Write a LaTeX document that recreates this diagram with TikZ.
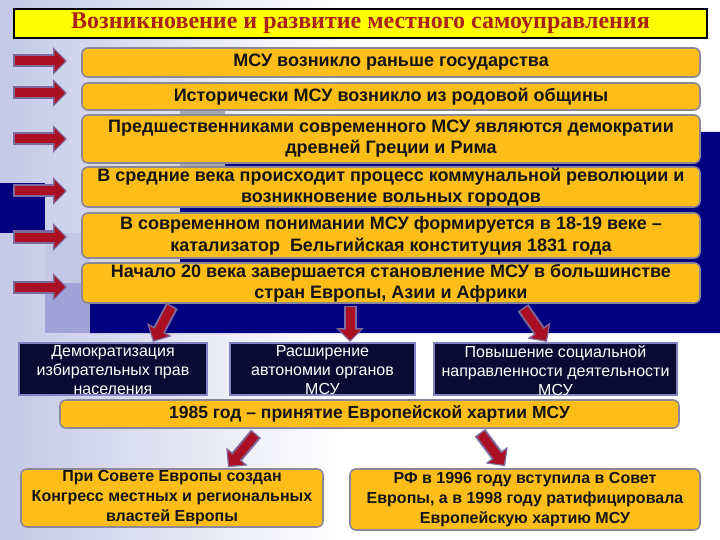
\documentclass[tikz,border=0pt]{standalone}
\usepackage{fontspec}
\setmainfont{Liberation Sans}
\newfontfamily\titlefont{Liberation Serif}
\usetikzlibrary{arrows.meta,calc}
\definecolor{orng}{RGB}{253,190,25}
\definecolor{oborder}{RGB}{140,135,150}
\definecolor{txt}{RGB}{20,20,20}
\definecolor{navyc}{RGB}{0,0,128}
\definecolor{dfill}{RGB}{10,10,50}
\definecolor{dborder}{RGB}{130,130,195}
\definecolor{redc}{RGB}{170,15,35}
\definecolor{redline}{RGB}{125,105,155}
\definecolor{titlered}{RGB}{170,35,20}
\definecolor{lav}{RGB}{196,200,230}
\definecolor{lavmid}{RGB}{160,163,215}
\definecolor{lgray}{RGB}{215,215,222}
\definecolor{mgray}{RGB}{168,168,176}
\definecolor{ttlyellow}{RGB}{255,255,0}
\begin{document}
\begin{tikzpicture}[x=1pt,y=-1pt,
  obox/.style={draw=oborder, line width=1.6pt, fill=orng, rounded corners=6pt,
    align=center, inner sep=0pt, text=txt, font=\bfseries\fontsize{18}{21}\selectfont},
  smallo/.style={obox, font=\bfseries\fontsize{16}{20}\selectfont},
  dbox/.style={draw=dborder, line width=2pt, fill=dfill, inner sep=0pt},
  dtext/.style={text=white, align=center, inner sep=0pt, font=\fontsize{16}{19}\selectfont},
  arrout/.style={line width=13pt, draw=redline, -{Triangle[width=27pt,length=14pt]}},
  arrin/.style={line width=9pt, draw=redc, shorten >=2pt, shorten <=1.5pt, -{Triangle[width=21pt,length=10.5pt]}}]
\useasboundingbox (0,0) rectangle (720,540);
% background
\fill[white] (0,0) rectangle (720,540);
\shade[left color=lav, right color=white] (0,0) rectangle (340,540);
\fill[mgray] (180,105) rectangle (225,168);
\fill[lgray] (135,160) rectangle (180,200);
\fill[lgray] (90,200) rectangle (180,262);
\fill[navyc] (225,132) -- (720,132) -- (720,333) -- (90,333) -- (90,262) -- (180,262) -- (180,168) -- (225,168) -- cycle;
\fill[navyc] (0,183) rectangle (45,233);
\fill[lav] (45,233) rectangle (90,283);
\fill[lavmid] (45,283) rectangle (90,333);
% title
\node[draw=black, line width=2.5pt, fill=ttlyellow, minimum width=693pt, minimum height=29pt, inner sep=0pt,
  text=titlered, font=\titlefont\bfseries\fontsize{24}{26}\selectfont] (title) at (360.5,23.5)
  {Возникновение и развитие местного самоуправления};
% orange boxes
\node[obox, minimum width=618pt, minimum height=29pt] (b1) at (391,62.5) {МСУ возникло раньше государства};
\node[obox, minimum width=618pt, minimum height=27pt] (b2) at (391,96.5) {Исторически МСУ возникло из родовой общины};
\node[obox, minimum width=618pt, minimum height=48pt] (b3) at (391,139) {Предшественниками современного МСУ являются демократии\\древней Греции и Рима};
\node[obox, minimum width=618pt, minimum height=40pt] (b4) at (391,187) {В средние века происходит процесс коммунальной революции и\\возникновение вольных городов};
\node[obox, minimum width=618pt, minimum height=45pt, font=\bfseries\fontsize{18}{22}\selectfont] (b5) at (391,235.5) {В современном понимании МСУ формируется в 18-19 веке –\\катализатор\ \ Бельгийская конституция 1831 года};
\node[obox, minimum width=618pt, minimum height=40pt] (b6) at (391,283) {Начало 20 века завершается становление МСУ в большинстве\\стран Европы, Азии и Африки};
% left arrows
\coordinate (tipx) at (67,0);
\foreach \i/\yy in {1/61,2/93,3/139,4/191,5/237,6/287}{
  \coordinate (t\i) at (13,\yy);
  \draw[arrout] (t\i) -- (t\i -| tipx);
  \draw[arrin] (t\i) -- (t\i -| tipx);
}
% dark boxes
\node[dbox, minimum width=188pt, minimum height=52pt] (dA) at (113,369) {};
\node[dbox, minimum width=185pt, minimum height=52pt] (dB) at (322.5,369) {};
\node[dbox, minimum width=243pt, minimum height=52pt] (dC) at (555.5,369) {};
\node[dtext, anchor=north] (tA) at ($(dA.north)+(0,3)$) {Демократизация\\избирательных прав\\населения};
\node[dtext, anchor=north] (tB) at ($(dB.north)+(0,3)$) {Расширение\\автономии органов\\МСУ};
\node[dtext, anchor=north] (tC) at ($(dC.north)+(0,3)$) {Повышение социальной\\направленности деятельности\\МСУ};
% arrows from b6
\coordinate (sA) at ($(b6.south)+(-219,2)$);
\coordinate (eA) at ($(dA.north)+(40,0)$);
\coordinate (sB) at ($(b6.south)+(-41,2)$);
\coordinate (eB) at ($(dB.north)+(27.5,0)$);
\coordinate (sC) at ($(b6.south)+(132,4)$);
\coordinate (eC) at ($(dC.north)+(-8.5,0)$);
\foreach \k in {A,B,C}{
  \draw[arrout] (s\k) -- (e\k);
  \draw[arrin] (s\k) -- (e\k);
}
% 1985 box
\node[obox, minimum width=619pt, minimum height=28pt, font=\bfseries\fontsize{17.5}{21}\selectfont] (h) at (369.5,414)
  {1985 год – принятие Европейской хартии МСУ};
% bottom boxes
\node[smallo, minimum width=302pt, minimum height=58pt] (bL) at (172,498)
  {При Совете Европы создан\\Конгресс местных и региональных\\властей Европы};
\node[smallo, minimum width=350pt, minimum height=61pt] (bR) at (525,499.5)
  {РФ в 1996 году вступила в Совет\\Европы, а в 1998 году ратифицировала\\Европейскую хартию МСУ};
\coordinate (sL) at ($(h.south)+(-113.5,5)$);
\coordinate (eL) at ($(bL.north)+(56,-1)$);
\coordinate (sR) at ($(h.south)+(110.5,4)$);
\coordinate (eR) at ($(bR.north)+(-20,-2)$);
\foreach \k in {L,R}{
  \draw[arrout] (s\k) -- (e\k);
  \draw[arrin] (s\k) -- (e\k);
}
\end{tikzpicture}
\end{document}
